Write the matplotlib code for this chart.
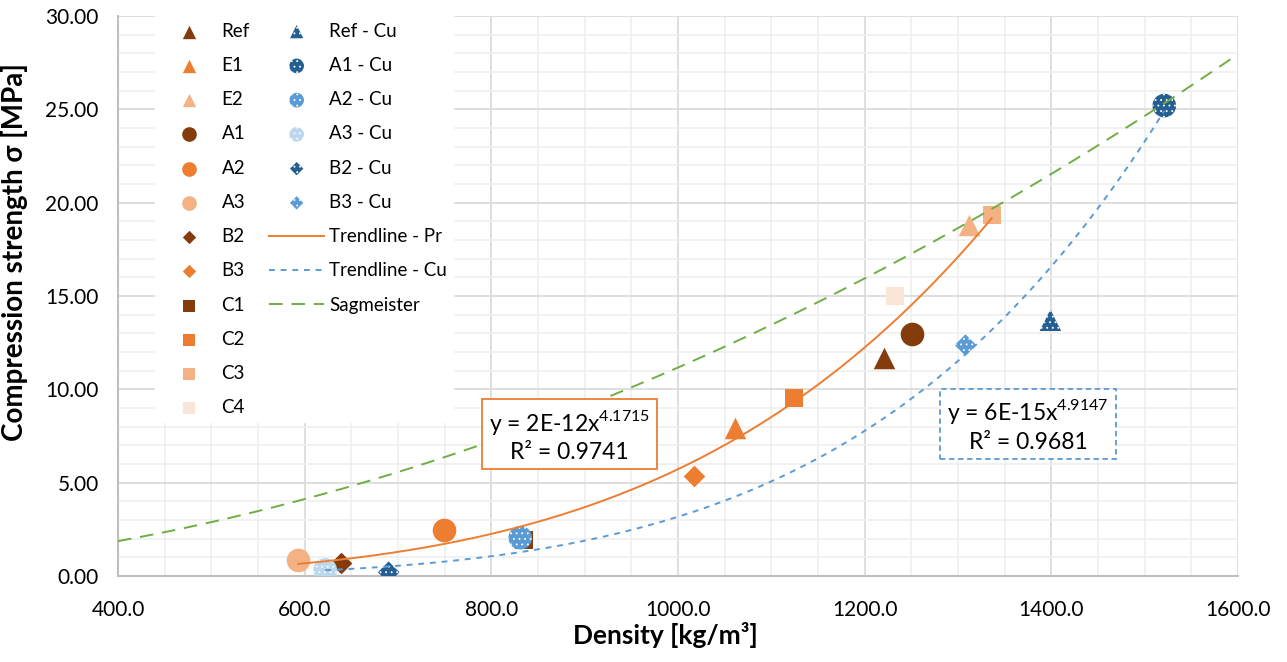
import numpy as np
import matplotlib
matplotlib.use("Agg")
import matplotlib.pyplot as plt
from matplotlib.lines import Line2D
from matplotlib.ticker import MultipleLocator, FormatStrFormatter

plt.rcParams['font.family'] = ['Lato', 'DejaVu Sans']
plt.rcParams['mathtext.fontset'] = 'custom'
plt.rcParams['mathtext.rm'] = 'Lato'
plt.rcParams['hatch.linewidth'] = 0.6

# ---- plain specimens (Pr) ----
pr_names = ["Ref", "E1", "E2", "A1", "A2", "A3", "B2", "B3", "C1", "C2", "C3", "C4"]
pr_density = [1221, 1061, 1312, 1251, 749, 593, 639, 1017, 835, 1124, 1336, 1233]
pr_strength = [11.70, 7.95, 18.80, 12.95, 2.46, 0.85, 0.68, 5.37, 1.93, 9.55, 19.35, 15.00]
pr_markers = ["^", "^", "^", "o", "o", "o", "D", "D", "s", "s", "s", "s"]
pr_colors = ["#843C0C", "#ED7D31", "#F4B183", "#843C0C", "#ED7D31", "#F4B183",
             "#843C0C", "#ED7D31", "#843C0C", "#ED7D31", "#F4B183", "#FBE5D6"]

# ---- copper specimens (Cu) ----
cu_names = ["Ref - Cu", "A1 - Cu", "A2 - Cu", "A3 - Cu", "B2 - Cu", "B3 - Cu"]
cu_density = [1399, 1521, 831, 622, 690, 1308]
cu_strength = [13.70, 25.20, 2.05, 0.33, 0.20, 12.37]
cu_markers = ["^", "o", "o", "o", "D", "D"]
cu_colors = ["#255E91", "#255E91", "#5B9BD5", "#BDD7EE", "#255E91", "#5B9BD5"]

# ---- power-law curves  y = a * x^b ----
PR_COEF, PR_EXP, PR_R2 = 1.75e-12, 4.1715, 0.9741
CU_COEF, CU_EXP, CU_R2 = 5.72e-15, 4.9147, 0.9681
SAG_COEF, SAG_EXP = 1.556e-5, 1.952

marker_size = {"^": 15.5, "o": 17.0, "D": 11.0, "s": 13.0}

fig = plt.figure(figsize=(12.87, 6.62), dpi=100)
ax = fig.add_axes([118 / 1287, 1 - 576 / 662, 1120 / 1287, 560 / 662])

ax.set_xlim(400, 1600)
ax.set_ylim(0, 30)
ax.xaxis.set_major_locator(MultipleLocator(200))
ax.xaxis.set_minor_locator(MultipleLocator(50))
ax.yaxis.set_major_locator(MultipleLocator(5))
ax.yaxis.set_minor_locator(MultipleLocator(1))
ax.xaxis.set_major_formatter(FormatStrFormatter("%.1f"))
ax.yaxis.set_major_formatter(FormatStrFormatter("%.2f"))
ax.grid(which="minor", color="#EFEFEF", lw=1.2, zorder=0)
ax.grid(which="major", color="#D9D9D9", lw=1.2, zorder=0)
ax.set_axisbelow(True)
ax.tick_params(which="both", length=0)
ax.tick_params(axis="y", pad=14, labelsize=15)
ax.tick_params(axis="x", pad=17, labelsize=15)
for side in ("top", "right"):
    ax.spines[side].set_visible(False)
for side in ("left", "bottom"):
    ax.spines[side].set_color("#BFBFBF")
    ax.spines[side].set_linewidth(1.5)

handles = []
for name, x, y, m, c in zip(pr_names, pr_density, pr_strength, pr_markers, pr_colors):
    h = ax.scatter([x], [y], s=marker_size[m] ** 2, marker=m, color=c,
                   linewidths=0, zorder=3, label=name)
    handles.append(h)
for name, x, y, m, c in zip(cu_names, cu_density, cu_strength, cu_markers, cu_colors):
    h = ax.scatter([x], [y], s=marker_size[m] ** 2, marker=m, facecolor=c,
                   edgecolor="white", hatch="...", linewidths=0, zorder=4, label=name)
    handles.append(h)

# trend curves over the range of each series
xp = np.linspace(min(pr_density), max(pr_density), 300)
ln_pr, = ax.plot(xp, PR_COEF * xp ** PR_EXP, color="#ED7D31", lw=1.4, zorder=5,
                 label="Trendline - Pr")
xc = np.linspace(min(cu_density), max(cu_density), 300)
ln_cu, = ax.plot(xc, CU_COEF * xc ** CU_EXP, color="#5B9BD5", lw=1.4, zorder=5,
                 dashes=(3, 3), label="Trendline - Cu")
xs = np.linspace(400, 1600, 300)
ln_sg, = ax.plot(xs, SAG_COEF * xs ** SAG_EXP, color="#70AD47", lw=1.4, zorder=5,
                 dashes=(7, 4.5), label="Sagmeister")
handles += [ln_pr, ln_cu, ln_sg]
handles += [Line2D([], [], linestyle="none", marker="none", label=" ") for _ in range(3)]

leg = ax.legend(handles=handles, ncol=2, loc="upper left", bbox_to_anchor=(0.033, 1.0),
                fontsize=13.5, markerscale=0.62, frameon=True, fancybox=False,
                framealpha=1, edgecolor="none", facecolor="white",
                handlelength=2.9, handletextpad=0.3, columnspacing=1.05,
                labelspacing=0.92, borderpad=0.35, borderaxespad=0)
leg.set_zorder(6)

pr_label = f"y = {PR_COEF:.0E}x$^{{{PR_EXP:.4f}}}$\nR² = {PR_R2:.4f}"
ax.text(884, 7.55, pr_label, ha="center", va="center", fontsize=16.5, linespacing=1.3,
        zorder=7, bbox=dict(boxstyle="square,pad=0.3", facecolor="white",
                            edgecolor="#ED7D31", lw=1.3))
cu_label = f"y = {CU_COEF:.0E}x$^{{{CU_EXP:.4f}}}$\nR² = {CU_R2:.4f}"
ax.text(1375, 8.09, cu_label, ha="center", va="center", fontsize=16.5, linespacing=1.3,
        zorder=7, bbox=dict(boxstyle="square,pad=0.3", facecolor="white",
                            edgecolor="#5B9BD5", lw=1.3, linestyle=(0, (3, 2))))

ax.set_xlabel("Density [kg/m³]", fontsize=19, fontweight="bold")
ax.set_ylabel("Compression strength σ [MPa]", fontsize=20, fontweight="bold")
ax.xaxis.set_label_coords(0.489, -0.083)
ax.yaxis.set_label_coords(-0.08, 0.579)

fig.savefig("out.png", dpi=100, facecolor="white")
